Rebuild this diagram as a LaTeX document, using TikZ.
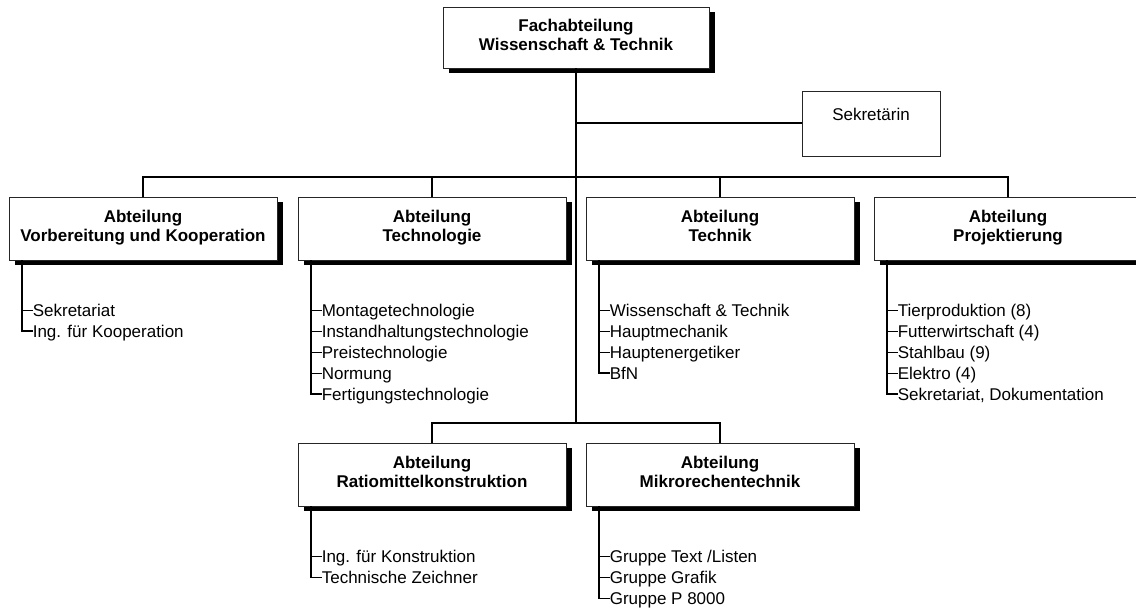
\documentclass[tikz,border=0pt]{standalone}
\usepackage{fontspec}
\setmainfont{Liberation Sans}
\usetikzlibrary{shadows,calc}

\begin{document}
\begin{tikzpicture}[x=1pt,y=-1pt,
  unitbox/.style={draw=black!85, line width=0.8pt, fill=white, align=center,
    font=\fontsize{17}{19}\selectfont\bfseries, inner sep=0pt,
    minimum width=268pt, minimum height=63pt,
    execute at begin node={\rule{0pt}{19.5pt}}, execute at end node=\strut,
    drop shadow={shadow xshift=5.5pt, shadow yshift=-5.5pt, fill=black, opacity=1}},
  headbox/.style={unitbox, minimum width=266pt, minimum height=61pt,
    execute at begin node={\rule{0pt}{25pt}}},
  plainbox/.style={draw=black!85, line width=0.8pt, fill=white, align=center,
    font=\fontsize{17}{19}\selectfont, inner sep=0pt,
    minimum width=138pt, minimum height=65pt},
  item/.style={anchor=west, inner sep=0pt, text height=12.2pt, text depth=0pt,
    font=\fontsize{17}{21}\selectfont},
  conn/.style={line width=2pt, black},
  listline/.style={line width=1.8pt, black},
  tick/.style={line width=1pt, black}]
\useasboundingbox (0,0) rectangle (1136,609);
\clip (0,0) rectangle (1136,609);

% head of the department and secretary
\node[headbox] (head) at (576,37.5) {Fachabteilung\\Wissenschaft \& Technik};
\node[plainbox] (sek) at (871,123.5) {Sekretärin\\\mbox{}};

% departments, first row
\node[unitbox] (b1) at (143,228.5) {Abteilung\\Vorbereitung und Kooperation};
\node[unitbox] (b2) at (432,228.5) {Abteilung\\Technologie};
\node[unitbox] (b3) at (720,228.5) {Abteilung\\Technik};
\node[unitbox] (b4) at (1008,228.5) {Abteilung\\Projektierung};

% departments, second row
\node[unitbox] (b5) at (432,474.5) {Abteilung\\Ratiomittelkonstruktion};
\node[unitbox] (b6) at (720,474.5) {Abteilung\\Mikrorechentechnik};

% tree connectors
\coordinate (jmid) at (576,177);
\coordinate (jlow) at (576,423);
\draw[conn] (head.south) -- (jlow);
\draw[conn] (head.south |- sek.west) -- (sek.west);
\draw[conn] (b1.north) |- (jmid) -| (b4.north);
\draw[conn] (b2.north) -- (b2.north |- jmid);
\draw[conn] (b3.north) -- (b3.north |- jmid);
\draw[conn] (b5.north) |- (jlow) -| (b6.north);

% sub-unit lists
\foreach \t [count=\i] in {Sekretariat, Ing. für Kooperation}
  \node[item] (a\i) at ($(b1.south west)+(24,29+21*\i)$) {\t};
\foreach \t [count=\i] in {Montagetechnologie, Instandhaltungstechnologie,
    Preistechnologie, Normung, Fertigungstechnologie}
  \node[item] (c\i) at ($(b2.south west)+(24,29+21*\i)$) {\t};
\foreach \t [count=\i] in {Wissenschaft \& Technik, Hauptmechanik,
    Hauptenergetiker, BfN}
  \node[item] (d\i) at ($(b3.south west)+(24,29+21*\i)$) {\t};
\foreach \t [count=\i] in {Tierproduktion (8), Futterwirtschaft (4),
    Stahlbau (9), Elektro (4), {Sekretariat, Dokumentation}}
  \node[item] (e\i) at ($(b4.south west)+(24,29+21*\i)$) {\t};
\foreach \t [count=\i] in {Ing. für Konstruktion, Technische Zeichner}
  \node[item] (f\i) at ($(b5.south west)+(24,29+21*\i)$) {\t};
\foreach \t [count=\i] in {Gruppe Text /Listen, Gruppe Grafik, Gruppe P 8000}
  \node[item] (g\i) at ($(b6.south west)+(24,29+21*\i)$) {\t};

% list brackets
\foreach \b/\p/\n in {b1/a/2, b2/c/5, b3/d/4, b4/e/5, b5/f/2, b6/g/3} {
  \coordinate (\b v) at ($(\b.south west)+(13.5,0)$);
  \draw[listline] (\b v) |- (\p\n.west);
  \foreach \i in {1,...,\n}
    \draw[tick] (\p\i.west) -- (\p\i.west -| \b v);
}
\end{tikzpicture}
\end{document}
